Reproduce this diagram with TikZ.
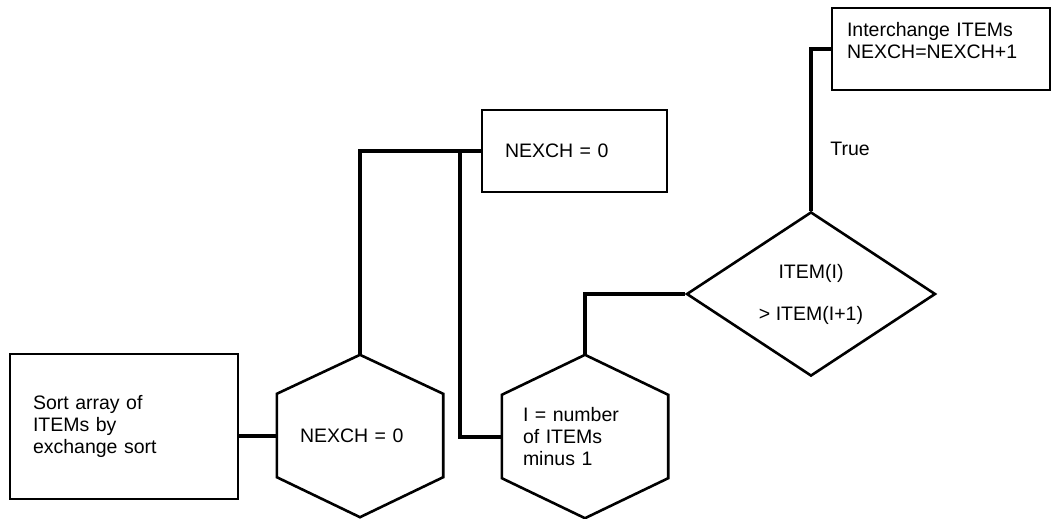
\documentclass[tikz,border=0pt]{standalone}
\usepackage{fontspec}
\setmainfont{Liberation Sans}
\usetikzlibrary{shapes.geometric}

\begin{document}
\begin{tikzpicture}[
    x=1pt, y=-1pt,
    font=\fontsize{19.5}{22}\selectfont,
    procbox/.style={draw, line width=1.8pt, align=left, inner ysep=0pt},
    hexbox/.style={minimum width=166pt, minimum height=83pt, align=left, inner ysep=0pt},
    hexline/.style={line width=2.6pt, line join=miter},
    decision/.style={diamond, draw, line width=2.6pt, minimum width=249pt,
                     minimum height=123pt, inner sep=0pt, align=center},
    flow/.style={line width=4pt}
  ]
  \useasboundingbox (0,0) rectangle (1053,519);

  % boxes
  \node[procbox, minimum width=228pt, minimum height=145pt, text width=182pt,
        inner xsep=23pt] (sort) at (124,426.5) {Sort array of\\ITEMs by\\exchange sort};
  \node[procbox, minimum width=185pt, minimum height=82pt, text width=139pt,
        inner xsep=23pt] (init) at (574.5,151) {NEXCH = 0};
  \node[procbox, minimum width=218pt, minimum height=82pt, text width=188pt,
        inner xsep=15pt, text depth=40pt] (swap) at (941,49) {Interchange ITEMs\\NEXCH=NEXCH+1};

  % hexagons
  \node[hexbox, text width=120pt, inner xsep=23pt] (h1) at (360,435.5) {NEXCH = 0};
  \node[hexbox, text width=124pt, inner xsep=21pt] (h2) at (585,436.5) {I = number\\of ITEMs\\minus 1};
  \coordinate (h1top) at ([yshift=39pt]h1.north);
  \coordinate (h2top) at ([yshift=40pt]h2.north);
  \draw[hexline] (h1.north west) -- (h1top) -- (h1.north east) -- (h1.south east)
    -- ([yshift=-40pt]h1.south) -- (h1.south west) -- cycle;
  \draw[hexline] (h2.north west) -- (h2top) -- (h2.north east) -- (h2.south east)
    -- ([yshift=-40pt]h2.south) -- (h2.south west) -- cycle;

  % decision
  \node[decision] (test) at (811,294) {ITEM(I)\\[20pt]> ITEM(I+1)};

  % connectors
  \coordinate (jn) at ([xshift=-21pt]init.west);
  \draw[flow] (sort.east |- h1.west) -- (h1.west);
  \draw[flow] (h1top) |- (init.west);
  \draw[flow] (jn) |- (h2.west);
  \draw[flow] (h2top) |- (test.west);
  \draw[flow] (test.north) |- (swap.west) node[pos=0.23, right=14pt, yshift=-13pt] {True};
\end{tikzpicture}
\end{document}
